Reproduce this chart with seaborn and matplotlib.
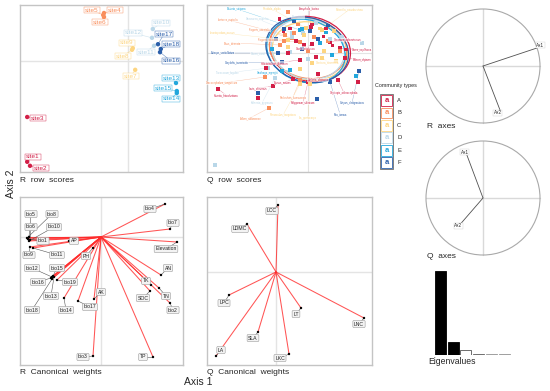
import numpy as np
import pandas as pd
import matplotlib
matplotlib.use("Agg")
import matplotlib.pyplot as plt
import seaborn as sns
from matplotlib.patches import Ellipse, Circle, Rectangle

# ---------------- data ----------------
groups = ["A", "B", "C", "D", "E", "F"]
group_colors = ["#D21F47", "#F98E5C", "#FDD581", "#B9D7E8", "#22A7DC", "#2B5FAA"]

sites = [f"site{i}" for i in range(1, 19)]
site_group = ["A"] * 3 + ["B"] * 3 + ["C"] * 3 + ["D"] * 3 + ["E"] * 3 + ["F"] * 3
site_x = [-2.52, -2.45, -2.52, -0.60, -0.62, -0.60, 0.18, 0.10, 0.12,
          0.62, 0.65, 0.60, 1.20, 1.22, 1.22, 0.80, 0.75, 0.82]
site_y = [-2.52, -2.62, -1.40, 1.20, 1.15, 1.10, -0.22, 0.28, 0.32,
          0.80, 0.38, 0.58, -0.55, -0.80, -0.75, 0.22, 0.42, 0.30]
site_lab_x = [-2.375, -2.175, -2.25, -0.325, -0.90, -0.70, 0.075, -0.125, -0.025,
              0.825, 0.45, 0.125, 1.075, 1.075, 0.875, 1.075, 0.90, 1.075]
site_lab_y = [-2.40, -2.675, -1.425, 1.275, 1.275, 0.975, -0.375, 0.125, 0.45,
              0.95, 0.225, 0.70, -0.425, -0.95, -0.675, 0.0, 0.675, 0.425]

# species scores (labelled ones first)
sp_lab_names = ["Bistorta_vivipara", "Rhodiola_algida", "Anaphalis_lactea", "Potentilla_saundersiana",
                "Saussurea_superba", "Lonicera_rupicola", "Poa_alpina", "Leontopodium_nanum",
                "Fragaria_orientalis", "Pinus_densata", "Fragaria_nubicola", "Euterpe_verticillatum",
                "Carum_carvi", "Geranium_pylzowianum", "Carex_capillacea", "Carex_atrofusca",
                "Corydalis_tenericola", "Helictotrichon_tibeticum", "Gentiana_straminea", "Phleum_alpinum",
                "Taraxacum_lugubre", "Saxifraga_egregia", "Dracocephalum_tanguticum", "Ixeris_chinensis",
                "Elymus_nutans", "Stellaria_uliginosa", "Swertia_franchetiana", "Oxytropis_ochrocephala",
                "Kobresia_pygmaea", "Pedicularis_kansuensis", "Polygonum_sibiricum", "Scirpus_distigmaticus",
                "Allium_sikkimense", "Ranunculus_tanguticus", "Iris_goniocarpa", "Poa_annua"]
sp_lab_group = ["E", "C", "A", "C", "D", "B", "D", "C", "B", "B", "B", "F",
                "D", "A", "A", "A", "F", "A", "C", "A", "D", "E", "B", "A",
                "A", "A", "A", "A", "D", "B", "A", "F", "B", "C", "C", "F"]
sp_lab_x = [-1.775, -0.90, 0.025, 1.05, -1.25, -2.0, -0.25, -2.15, -1.2, -1.9, -1.0, -2.125,
            -1.25, 1.0, 1.35, -0.05, -1.775, -0.825, 0.5, 1.35, -2.025, -1.0, -2.15, -1.25,
            -0.625, 0.25, -2.05, 0.9, -1.15, -0.375, -0.125, 1.1, -1.45, -0.625, 0.0, 0.8]
sp_lab_y = [1.1, 1.1, 1.1, 1.1, 0.85, 0.825, 0.9, 0.5, 0.575, 0.25, 0.325, 0.0,
            0.0, 0.325, 0.075, 0.125, -0.25, -0.25, -0.225, -0.175, -0.5, -0.5, -0.75, -0.875,
            -0.75, -0.675, -1.05, -1.0, -1.25, -1.1, -1.25, -1.25, -1.625, -1.55, -1.625, -1.525]
sp_group = sp_lab_group + (["A"] * 15 + ["B"] * 8 + ["C"] * 8 + ["D"] * 7 + ["E"] * 7 + ["F"] * 9)
sp_x = [-0.2, -0.05, 0.075, 0.35, -0.4, -0.575, -0.125, -0.5, -0.4, -0.7, -0.2, -0.75,
        -0.45, 0.55, 0.8, 0.1, -0.65, -0.2, 0.35, 0.925, -1.0, -0.45, -1.075, -0.875,
        -0.375, 0.25, -2.25, 0.75, -0.825, -0.2, 0.0, 1.275, -0.975, -0.2, 0.05, 0.55,
        -0.72, -0.45, 0.1, 0.38, -0.3, 0.62, -1.25, -1.05, 1.25, 0.95, 0.2, -0.5, 0.45, -0.1, -0.62,
        -0.5, -0.35, 0.15, 0.5, -0.6, 0.8, 0.0, -0.25,
        0.3, -0.1, 0.65, 0.4, -0.5, 0.1, 0.7, -0.2,
        -2.325, 0.2, -0.4, 0.55, 1.35, 0.85, 0.0,
        1.2, 0.45, -0.15, 0.3, -0.65, 0.6, -0.9,
        -1.25, 0.225, -0.35, 0.05, -0.6, 0.25, -0.8, 0.5, -0.15]
sp_y = [0.575, 0.625, 0.65, 0.575, 0.5, 0.45, 0.5, 0.325, 0.375, 0.2, 0.275, 0.0,
        0.025, 0.275, 0.125, 0.225, -0.225, -0.175, -0.125, -0.125, -0.375, -0.425, -0.6, -0.825,
        -0.65, -0.525, -0.9, -0.675, -0.625, -0.675, -0.725, -0.45, -1.375, -0.775, -0.775, -0.725,
        0.85, 0.62, 0.72, 0.42, 0.3, 0.18, -1.125, -0.375, -0.725, 0.08, -0.1, 0.0, 0.62, 0.2, 0.55,
        1.025, 0.5, 0.4, 0.3, 0.3, 0.05, 0.05, 0.72,
        0.62, 0.45, 0.55, 0.05, 0.15, -0.25, -0.2, -0.4,
        -2.8, 0.75, 0.4, 0.35, 0.25, 0.4, -0.15,
        -0.575, 0.52, 0.6, 0.25, -0.45, -0.05, 0.1,
        -1.0, -1.15, 0.78, 0.55, 0.6, 0.35, 0.35, 0.68, 0.1]

# group ellipses on Q row scores
ell_cx = [0.05, 0.0, 0.05, 0.0, -0.05, -0.02]
ell_cy = [0.10, 0.12, 0.05, 0.10, 0.05, 0.08]
ell_w = [2.05, 1.95, 1.90, 1.85, 2.00, 2.10]
ell_h = [1.60, 1.50, 1.45, 1.50, 1.55, 1.60]
ell_ang = [-15, -12, -10, -14, -18, -16]

# R canonical weights (environment)
env_names = ["bio4", "bio7", "Elevation", "AN", "TK", "TN", "SOC", "bio2", "TP", "bio3", "AK", "bio17",
             "bio14", "PH", "bio19", "bio12", "bio15", "bio16", "bio13", "bio18", "bio9", "bio11",
             "bio1", "AP", "bio5", "bio8", "bio6", "bio10"]
env_x = [1.60, 1.725, 1.90, 1.50, 1.25, 1.45, 1.225, 1.725, 1.30, -0.20, -0.175, -0.575,
         -0.925, -0.20, -1.10, -1.225, -1.20, -1.25, -1.175, -1.225, -1.775, -1.70,
         -1.825, -0.80, -1.80, -1.85, -1.775, -1.80]
env_y = [0.825, 0.20, -0.125, -0.95, -1.20, -1.275, -1.35, -1.65, -3.0, -2.975, -1.55, -1.60,
         -1.525, -0.275, -1.075, -1.0, -0.975, -1.025, -1.0, -1.05, -0.25, -0.275,
         -0.05, -0.10, 0.0, -0.025, -0.075, -0.10]
env_lab_x = [1.225, 1.80, 1.625, 1.675, 1.125, 1.625, 1.05, 1.80, 1.05, -0.45, 0.0, -0.275,
             -0.875, -0.375, -0.775, -1.725, -1.10, -1.575, -1.25, -1.725, -1.80, -1.10,
             -1.45, -0.675, -1.75, -1.225, -1.75, -1.175]
env_lab_y = [0.70, 0.35, -0.30, -0.775, -1.10, -1.475, -1.525, -1.825, -3.0, -3.0, -1.375, -1.75,
             -1.825, -0.475, -1.125, -0.775, -0.775, -1.125, -1.475, -1.825, -0.45, -0.45,
             -0.10, -0.10, 0.575, 0.575, 0.25, 0.25]

# Q canonical weights (traits)
trait_names = ["LCC", "LDMC", "LPC", "LA", "SLA", "LKC", "LT", "LNC"]
trait_x = [0.05, -0.725, -1.175, -1.50, -0.45, 0.325, 0.625, 2.20]
trait_y = [1.675, 1.20, -0.575, -2.10, -1.50, -2.05, -0.90, -1.15]
trait_lab_x = [-0.10, -0.90, -1.30, -1.375, -0.575, 0.10, 0.50, 2.075]
trait_lab_y = [1.525, 1.075, -0.775, -1.95, -1.65, -2.15, -1.05, -1.30]

# R / Q axes projections
axes_names = ["Ax1", "Ax2"]
r_axes_x = [0.947, 0.298]
r_axes_y = [0.316, -0.772]
q_axes_x = [-0.30, -0.39]
q_axes_y = [0.80, -0.45]

# eigenvalues
eig_rank = [1, 2, 3, 4, 5, 6, 7, 8]
eig_values = [1.68, 0.26, 0.10, 0.02, 0.012, 0.012, 0.01, 0.01]

# ---------------- figure ----------------
sns.set_theme(style="white")
plt.rcParams["font.family"] = ["Liberation Sans", "DejaVu Sans"]

W, H = 550, 391
fig = plt.figure(figsize=(5.5, 3.91), dpi=100)
fig.patch.set_facecolor("white")
pal = dict(zip(groups, group_colors))


def add_ax(x0, y0, x1, y1):
    return fig.add_axes([x0 / W, 1 - y1 / H, (x1 - x0) / W, (y1 - y0) / H])


def style_panel(ax, xlim, ylim, frame=True):
    ax.set_xlim(xlim)
    ax.set_ylim(ylim)
    ax.set_xticks([])
    ax.set_yticks([])
    ax.set_xlabel("")
    ax.set_ylabel("")
    ax.set_facecolor("white")
    for s in ax.spines.values():
        s.set_visible(frame)
        s.set_color("#C4C4C4")
        s.set_linewidth(1.0)


gridc = "#E4E4E4"
boxlab = dict(boxstyle="round,pad=0.22,rounding_size=0.25", fc="#F3F3F3", ec="#9C9C9C", lw=0.4)

# ---- R row scores ----
ax = add_ax(20, 5, 183, 172)
style_panel(ax, (-2.7, 1.375), (-2.775, 1.4))
ax.axhline(0, color=gridc, lw=1.0, zorder=0)
ax.axvline(0, color=gridc, lw=1.0, zorder=0)
df_sites = pd.DataFrame({"site": sites, "group": site_group, "x": site_x, "y": site_y})
for i in range(len(sites)):
    c = pal[site_group[i]]
    ax.plot([site_x[i], site_lab_x[i]], [site_y[i], site_lab_y[i]], color=c, lw=0.4, alpha=0.7, zorder=1)
sns.scatterplot(data=df_sites, x="x", y="y", hue="group", palette=pal, s=10, edgecolor="none",
                legend=False, ax=ax, zorder=2)
for i in range(len(sites)):
    c = pal[site_group[i]]
    ax.text(site_lab_x[i], site_lab_y[i], sites[i], fontsize=4.6, color=c, ha="center", va="center",
            zorder=3, bbox=dict(boxstyle="square,pad=0.12", fc="white", ec=c, lw=0.35, alpha=0.85))
style_panel(ax, (-2.7, 1.375), (-2.775, 1.4))
fig.text(20 / W, 1 - 181 / H, "R  row  scores", fontsize=6, ha="left", va="center")

# ---- Q row scores ----
ax = add_ax(207, 5, 372, 172)
ax.axhline(0, color=gridc, lw=0.8, zorder=0)
ax.axvline(0, color=gridc, lw=0.8, zorder=0)
nlab = len(sp_lab_names)
for i in range(nlab):
    c = pal[sp_lab_group[i]]
    ax.plot([sp_x[i], sp_lab_x[i]], [sp_y[i], sp_lab_y[i]], color=c, lw=0.3, alpha=0.55, zorder=1)
df_sp = pd.DataFrame({"group": sp_group, "x": sp_x, "y": sp_y})
sns.scatterplot(data=df_sp, x="x", y="y", hue="group", palette=pal, s=5, marker="s",
                edgecolor="none", legend=False, ax=ax, zorder=3)
for g, cx, cy, w, h, a in zip(groups, ell_cx, ell_cy, ell_w, ell_h, ell_ang):
    ax.add_patch(Ellipse((cx, cy), w, h, angle=a, fill=False, ec=pal[g], lw=0.9, zorder=2))
for i in range(nlab):
    c = pal[sp_lab_group[i]]
    ax.text(sp_lab_x[i], sp_lab_y[i], sp_lab_names[i], fontsize=1.9, color=c, ha="center",
            va="center", zorder=4, bbox=dict(boxstyle="square,pad=0.1", fc="white", ec="none", alpha=0.6))
style_panel(ax, (-2.525, 1.6), (-2.975, 1.2))
fig.text(207 / W, 1 - 181 / H, "Q  row  scores", fontsize=6, ha="left", va="center")

# ---- legend ----
lax = add_ax(372, 76, 432, 172)
lax.set_xlim(372, 432)
lax.set_ylim(172, 76)
lax.axis("off")
lax.text(375, 85, "Community types", fontsize=3.9, ha="left", va="center")
lax.add_patch(Rectangle((380, 94), 13, 75, fill=False, ec="#6A6A6A", lw=0.6))
for i, (g, c) in enumerate(zip(groups, group_colors)):
    yc = 100.5 + 12.4 * i
    lax.add_patch(Rectangle((381.3, yc - 5.4), 10.4, 10.8, fc="white", ec=c, lw=0.6))
    lax.text(386.5, yc, "a", fontsize=5.5, color=c, ha="center", va="center", fontweight="bold")
    lax.text(397, yc, g, fontsize=4.2, ha="left", va="center")

# ---- R canonical weights ----
ax = add_ax(20, 197, 183, 365)
ax.axhline(0, color=gridc, lw=1.0, zorder=0)
ax.axvline(0, color=gridc, lw=1.0, zorder=0)
for i in range(len(env_names)):
    ax.plot([0, env_x[i]], [0, env_y[i]], color="#FF2A2A", lw=0.75, alpha=0.8, zorder=1)
for i in range(len(env_names)):
    ax.plot([env_x[i], env_lab_x[i]], [env_y[i], env_lab_y[i]], color="#555555", lw=0.4, zorder=2)
df_env = pd.DataFrame({"x": env_x, "y": env_y})
sns.scatterplot(data=df_env, x="x", y="y", color="black", s=3, edgecolor="none", ax=ax, zorder=3)
for i in range(len(env_names)):
    ax.text(env_lab_x[i], env_lab_y[i], env_names[i], fontsize=3.7, color="#222222", ha="center",
            va="center", zorder=4, bbox=boxlab)
style_panel(ax, (-2.025, 2.05), (-3.2, 1.0))
fig.text(20 / W, 1 - 372 / H, "R  Canonical  weights", fontsize=6, ha="left", va="center")

# ---- Q canonical weights ----
ax = add_ax(207, 197, 372, 365)
ax.axhline(0, color=gridc, lw=1.0, zorder=0)
ax.axvline(0, color=gridc, lw=1.0, zorder=0)
for i in range(len(trait_names)):
    ax.plot([0, trait_x[i]], [0, trait_y[i]], color="#FF2A2A", lw=0.75, alpha=0.8, zorder=1)
    ax.plot([trait_x[i], trait_lab_x[i]], [trait_y[i], trait_lab_y[i]], color="#555555", lw=0.4, zorder=2)
df_tr = pd.DataFrame({"x": trait_x, "y": trait_y})
sns.scatterplot(data=df_tr, x="x", y="y", color="black", s=3, edgecolor="none", ax=ax, zorder=3)
for i in range(len(trait_names)):
    ax.text(trait_lab_x[i], trait_lab_y[i], trait_names[i], fontsize=3.7, color="#222222", ha="center",
            va="center", zorder=4, bbox=boxlab)
style_panel(ax, (-1.725, 2.4), (-2.325, 1.875))
fig.text(207 / W, 1 - 372 / H, "Q  Canonical  weights", fontsize=6, ha="left", va="center")


# ---- R axes / Q axes ----
def circle_panel(cy, ax_x, ax_y, lab_off, label, label_y):
    ax = add_ax(424, cy - 59, 542, cy + 59)
    ax.set_xlim(-1.035, 1.035)
    ax.set_ylim(-1.035, 1.035)
    ax.axis("off")
    ax.plot([-1, 1], [0, 0], color="#D9D9D9", lw=1.0, zorder=0)
    ax.plot([0, 0], [-1, 1], color="#D9D9D9", lw=1.0, zorder=0)
    ax.add_patch(Circle((0, 0), 1, fill=False, ec="#A9A9A9", lw=0.8))
    for i in range(len(axes_names)):
        ax.plot([0, ax_x[i]], [0, ax_y[i]], color="#505050", lw=0.6)
        ax.text(ax_x[i] + lab_off[i][0], ax_y[i] + lab_off[i][1], axes_names[i], fontsize=3.3,
                ha="center", va="center",
                bbox=dict(boxstyle="square,pad=0.12", fc="white", ec="#CFCFCF", lw=0.3))
    fig.text(427 / W, 1 - label_y / H, label, fontsize=6, ha="left", va="center")


circle_panel(66, r_axes_x, r_axes_y, [(0.06, 0.05), (-0.04, -0.05)], "R  axes", 127)
circle_panel(198, q_axes_x, q_axes_y, [(-0.02, 0.0), (-0.04, -0.04)], "Q  axes", 256)

# ---- eigenvalues ----
ax = add_ax(434, 270, 536, 355)
eig_fill = ["black", "black", "white", "#666666", "#999999", "#999999", "#999999", "#999999"]
eig_edge = ["black", "black", "#555555", "#666666", "#999999", "#999999", "#999999", "#999999"]
df_eig = pd.DataFrame({"rank": [str(r) for r in eig_rank], "value": eig_values})
sns.barplot(data=df_eig, x="rank", y="value", hue="rank", palette=eig_fill, legend=False,
            width=0.86, ax=ax, linewidth=0.6)
for p, ec in zip(ax.patches, eig_edge):
    p.set_edgecolor(ec)
ax.set_xlim(-0.5, 7.5)
ax.set_ylim(0, 1.70)
ax.axis("off")
fig.text(428 / W, 1 - 362 / H, "Eigenvalues", fontsize=6.2, ha="left", va="center")

# ---- global axis titles ----
fig.text(11 / W, 1 - 184 / H, "Axis 2", fontsize=7.5, rotation=90, ha="center", va="center")
fig.text(198 / W, 1 - 382 / H, "Axis 1", fontsize=7.5, ha="center", va="center")

fig.savefig("out.png", dpi=100, facecolor="white")
